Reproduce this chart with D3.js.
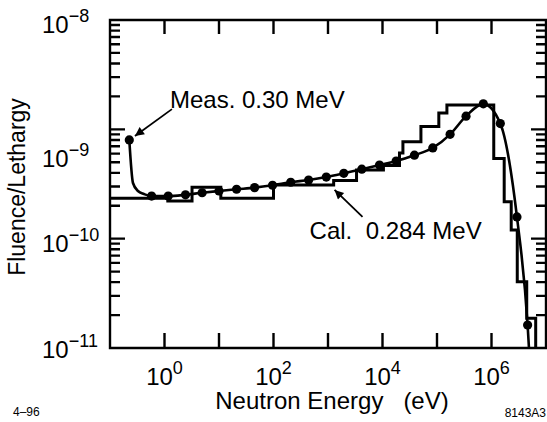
<!DOCTYPE html>
<html>
<head>
<meta charset="utf-8">
<script src="https://cdn.jsdelivr.net/npm/d3@7"></script>
<style>
  body { margin: 0; background: #fff; }
  svg { display: block; font-family: "Liberation Sans", Arial, Helvetica, sans-serif; }
</style>
</head>
<body>
<div id="chart"></div>
<script>
// measured spectrum, the points with markers
const measEnergy  = [0.226, 0.58, 1.17, 2.43, 4.9, 10, 21, 45, 96, 207, 441, 930, 1950, 4170, 8810,
                     17800, 38500, 83600, 174000, 341000, 708000, 1.45e6, 2.93e6, 4.6e6];
const measFluence = [8.0e-10, 2.45e-10, 2.45e-10, 2.52e-10, 2.63e-10, 2.73e-10, 2.83e-10, 2.93e-10, 3.08e-10,
                     3.28e-10, 3.44e-10, 3.66e-10, 3.96e-10, 4.32e-10, 4.72e-10, 5.13e-10, 5.80e-10, 6.76e-10,
                     9.0e-10, 1.32e-9, 1.71e-9, 1.13e-9, 1.58e-10, 1.62e-11];
// extra vertices of the measured curve (knee near 0.3 eV, tail below the axis)
const kneeEnergy  = [0.264, 0.326, 0.42, 5.0e6];
const kneeFluence = [3.23e-10, 2.73e-10, 2.56e-10, 8e-12];

// calculated spectrum, group boundaries and group values
const calEdges   = [0.1, 1.15, 3.2, 10.8, 100, 1270, 3340, 10400, 20500, 23700, 50700, 108000, 152000,
                    1.1e6, 1.71e6, 2.3e6, 2.97e6, 4.43e6, 6.47e6];
const calFluence = [2.34e-10, 2.21e-10, 2.95e-10, 2.34e-10, 3.10e-10, 3.41e-10, 4.25e-10, 4.67e-10,
                    6.08e-10, 7.71e-10, 1.06e-9, 1.41e-9, 1.67e-9, 5.41e-10, 2.18e-10, 1.20e-10,
                    4.04e-11, 1.87e-11];

const xDecades  = [1, 10, 100, 1e3, 1e4, 1e5, 1e6];
const xLabelAt  = [1, 100, 1e4, 1e6];
const xLabelExp = ["0", "2", "4", "6"];
const yLabelAt  = [1e-8, 1e-9, 1e-10, 1e-11];
const yLabelExp = ["\u22128", "\u22129", "\u221210", "\u221211"];

const W = 547, H = 422;
const L = 110, R = 546, T = 20, B = 348;

const x = d3.scaleLog().domain([0.1, 1e7]).range([L, R]);
const y = d3.scaleLog().domain([1e-11, 1e-8]).range([B, T]);

const svg = d3.select("#chart").append("svg")
	.attr("width", W)
	.attr("height", H);

let defs = svg.append("defs");
defs.append("clipPath").attr("id", "plot")
	.append("rect").attr("x", L).attr("y", T).attr("width", R - L).attr("height", B - T);
defs.append("marker")
	.attr("id", "head")
	.attr("viewBox", "0 0 10 10")
	.attr("refX", 10).attr("refY", 5)
	.attr("markerUnits", "userSpaceOnUse")
	.attr("markerWidth", 11).attr("markerHeight", 9)
	.attr("orient", "auto")
	.append("path").attr("d", "M0,0L10,5L0,10Z").attr("fill", "#000");

// log ticks for the y axis, 1..9 in each decade
let yTicks = [];
for (let e = -11; e < -8; e++) for (let k = 1; k < 10; k++) yTicks.push(k * Math.pow(10, e));
yTicks.push(1e-8);
const isMajor = (d) => Math.abs(Math.log10(d) - Math.round(Math.log10(d))) < 1e-6;

// frame and inward ticks as one path
let frame = d3.path();
frame.rect(L, T, R - L, B - T);
xDecades.forEach((d) => {
	frame.moveTo(x(d), B); frame.lineTo(x(d), B - 15);
	frame.moveTo(x(d), T); frame.lineTo(x(d), T + 14);
});
yTicks.forEach((d) => {
	let len = isMajor(d) ? 15 : 10;
	frame.moveTo(L, y(d)); frame.lineTo(L + len, y(d));
	frame.moveTo(R, y(d)); frame.lineTo(R - len, y(d));
});

svg.append("path")
	.attr("d", frame.toString())
	.attr("fill", "none")
	.attr("stroke", "#000")
	.attr("stroke-width", 2.4);

// tick labels with superscript exponents
svg.append("g").selectAll("text")
	.data(xLabelAt).enter()
	.append("text")
		.attr("x", (d) => x(d))
		.attr("y", 385)
		.attr("text-anchor", "middle")
		.attr("font-size", 24)
		.each(function (d, i) {
			d3.select(this).append("tspan").text("10");
			d3.select(this).append("tspan").attr("dy", -11).attr("font-size", 18).text(xLabelExp[i]);
		});

const yShift = (d) => (d === 1e-9 ? 38 : d === 1e-11 ? 10 : 13);
svg.append("g").selectAll("text")
	.data(yLabelAt).enter()
	.append("text")
		.attr("x", 42)
		.attr("y", (d) => y(d) + yShift(d))
		.attr("font-size", 24)
		.each(function (d, i) {
			d3.select(this).append("tspan").text("10");
			d3.select(this).append("tspan").attr("dy", -11).attr("font-size", 18).text(yLabelExp[i]);
		});

svg.append("text")
	.attr("x", 332).attr("y", 409)
	.attr("text-anchor", "middle")
	.attr("font-size", 24)
	.text("Neutron Energy\u00a0\u00a0\u00a0(eV)");

svg.append("text")
	.attr("transform", "translate(25,187) rotate(-90)")
	.attr("text-anchor", "middle")
	.attr("font-size", 23)
	.text("Fluence/Lethargy");

svg.append("text").attr("x", 13).attr("y", 416).attr("font-size", 12).text("4\u201396");
svg.append("text").attr("x", 546).attr("y", 417).attr("text-anchor", "end").attr("font-size", 12).text("8143A3");

let plot = svg.append("g").attr("clip-path", "url(#plot)");

// calculated group spectrum as a step line
let steps = calEdges.slice(0, -1).map((e, i) => [e, calFluence[i]]);
steps.push([calEdges[calEdges.length - 1], calFluence[calFluence.length - 1]]);
steps.push([calEdges[calEdges.length - 1], 5e-12]);

plot.append("path")
	.datum(steps)
	.attr("fill", "none")
	.attr("stroke", "#000")
	.attr("stroke-width", 3)
	.attr("d", d3.line().x((d) => x(d[0])).y((d) => y(d[1])).curve(d3.curveStepAfter));

// measured spectrum, smooth curve through the points
let meas = measEnergy.map((e, i) => [e, measFluence[i]]);
let curve = meas.concat(kneeEnergy.map((e, i) => [e, kneeFluence[i]])).sort((a, b) => a[0] - b[0]);

plot.append("path")
	.datum(curve)
	.attr("fill", "none")
	.attr("stroke", "#000")
	.attr("stroke-width", 2.6)
	.attr("d", d3.line().x((d) => x(d[0])).y((d) => y(d[1])).curve(d3.curveMonotoneX));

plot.append("g")
	.selectAll("circle")
	.data(meas).enter()
	.append("circle")
		.attr("cx", (d) => x(d[0]))
		.attr("cy", (d) => y(d[1]))
		.attr("r", 4.6)
		.attr("fill", "#000");

// annotations, placed in data coordinates
const notes = [
	{ text: "Meas. 0.30 MeV",            at: [1.26, 1.57e-9], from: [1.37, 1.53e-9], to: [0.287, 8.7e-10] },
	{ text: "Cal.\u00a0\u00a00.284 MeV", at: [460, 9.93e-11], from: [4300, 1.58e-10], to: [1320, 2.79e-10] }
];

svg.append("g").selectAll("line")
	.data(notes).enter()
	.append("line")
		.attr("x1", (d) => x(d.from[0])).attr("y1", (d) => y(d.from[1]))
		.attr("x2", (d) => x(d.to[0])).attr("y2", (d) => y(d.to[1]))
		.attr("stroke", "#000")
		.attr("stroke-width", 1.8)
		.attr("marker-end", "url(#head)");

svg.append("g").selectAll("text")
	.data(notes).enter()
	.append("text")
		.attr("x", (d) => x(d.at[0]))
		.attr("y", (d) => y(d.at[1]))
		.attr("font-size", 24)
		.text((d) => d.text);
</script>
</body>
</html>
